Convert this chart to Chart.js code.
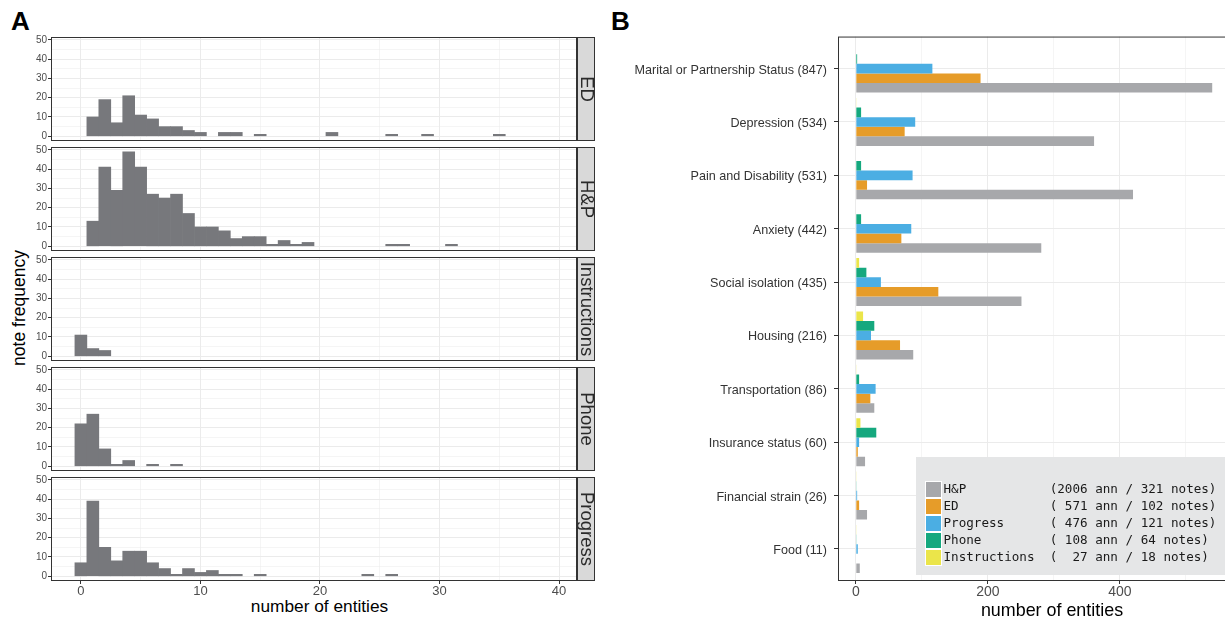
<!DOCTYPE html>
<html>
<head>
<meta charset="utf-8">
<script src="https://cdn.jsdelivr.net/npm/chart.js@4.4.1/dist/chart.umd.min.js"></script>
<style>
  body { margin: 0; width: 1225px; height: 623px; overflow: hidden; background: #fff; position: relative;
         font-family: "Liberation Sans", Arial, sans-serif; }
  canvas { position: absolute; }
  .tag { position: absolute; font-weight: bold; font-size: 26px; line-height: 1; color: #000; }
  .title { position: absolute; white-space: nowrap; line-height: 1; color: #000; }
  #ytitle { left: 20px; top: 308px; font-size: 17.5px; transform: translate(-50%, -50%) rotate(-90deg); }
  #xtitleA { left: 319.5px; top: 607px; font-size: 17.3px; transform: translate(-50%, -50%); }
</style>
</head>
<body>
<div class="tag" style="left:11px;top:8px">A</div>
<div class="tag" style="left:611px;top:8px">B</div>
<div class="title" id="ytitle">note frequency</div>
<div class="title" id="xtitleA">number of entities</div>

<script>
// Panel A: note frequency by number of entities (bin k = k entities)
const facetNames = ['ED', 'H&P', 'Instructions', 'Phone', 'Progress'];
const edBins = [0, 10, 19, 7, 21, 11, 9, 5, 5, 3, 2, 0, 2, 2, 0, 1, 0, 0, 0, 0, 0, 2, 0, 0, 0, 0, 1, 0, 0, 1, 0, 0, 0, 0, 0, 1];
const hpBins = [0, 13, 41, 29, 49, 41, 27, 25, 27, 17, 10, 10, 8, 4, 5, 5, 1, 3, 1, 2, 0, 0, 0, 0, 0, 0, 1, 1, 0, 0, 0, 1];
const instructionsBins = [11, 4, 3];
const phoneBins = [22, 27, 9, 1, 3, 0, 1, 0, 1];
const progressBins = [7, 39, 15, 8, 13, 13, 7, 4, 1, 4, 2, 3, 1, 1, 0, 1, 0, 0, 0, 0, 0, 0, 0, 0, 1, 0, 1];
const facetBins = [edBins, hpBins, instructionsBins, phoneBins, progressBins];
const histXTicks = [0, 5, 10, 15, 20, 25, 30, 35, 40];
const histYTicks = [0, 5, 10, 15, 20, 25, 30, 35, 40, 45, 50];

// Panel B: entities per category and note type
const catNames = ['Marital or Partnership Status', 'Depression', 'Pain and Disability', 'Anxiety',
  'Social isolation', 'Housing', 'Transportation', 'Insurance status', 'Financial strain', 'Food'];
const catTotals = [847, 534, 531, 442, 435, 216, 86, 60, 26, 11];
const hpCounts = [540, 361, 420, 281, 251, 87, 28, 14, 17, 6];
const edCounts = [189, 74, 17, 69, 125, 67, 22, 3, 5, 0];
const progressCounts = [116, 90, 86, 84, 38, 23, 30, 5, 2, 3];
const phoneCounts = [2, 8, 8, 8, 16, 28, 5, 31, 1, 1];
const instructionsCounts = [0, 1, 0, 0, 5, 11, 1, 7, 1, 1];
const seriesNames = ['H&P', 'ED', 'Progress', 'Phone', 'Instructions'];
const seriesCounts = [hpCounts, edCounts, progressCounts, phoneCounts, instructionsCounts];
const seriesColors = ['#a7a8ab', '#e69c29', '#4baee3', '#15a87e', '#ebe54a'];
const annTotals = [2006, 571, 476, 108, 27];
const noteTotals = [321, 102, 121, 64, 18];
const barXTicks = [0, 100, 200, 300, 400, 500, 600];

const FONT = '"Liberation Sans", Arial, sans-serif';
const histColor = '#77787c';
const gridColor = '#ebebeb';
const darkLine = '#333333';
const tickText = '#4d4d4d';

Chart.defaults.font.family = FONT;

// full border round the panel, drawn over the bars like ggplot
const framePlugin = {
  id: 'frame',
  afterDatasetsDraw(chart) {
    const { ctx, chartArea: a } = chart;
    ctx.save();
    ctx.strokeStyle = darkLine;
    ctx.lineWidth = 1;
    ctx.strokeRect(a.left + 0.5, a.top + 0.5, a.right - a.left - 1, a.bottom - a.top - 1);
    ctx.restore();
  }
};

// facet strip on the right side of each histogram
const stripPlugin = {
  id: 'strip',
  afterDraw(chart, args, opts) {
    const { ctx, chartArea: a } = chart;
    const w = 17;
    ctx.save();
    ctx.fillStyle = '#d9d9d9';
    ctx.fillRect(a.right, a.top, w, a.bottom - a.top);
    ctx.strokeStyle = darkLine;
    ctx.lineWidth = 1;
    ctx.strokeRect(a.right + 0.5, a.top + 0.5, w, a.bottom - a.top - 1);
    ctx.translate(a.right + w / 2 + 0.5, (a.top + a.bottom) / 2);
    ctx.rotate(Math.PI / 2);
    ctx.font = '18.5px ' + FONT;
    ctx.fillStyle = '#2a2a2a';
    ctx.textAlign = 'center';
    ctx.textBaseline = 'middle';
    ctx.fillText(opts.label, 0, 0);
    ctx.restore();
  }
};

const isMajor10 = c => c.tick && c.tick.value % 10 === 0;

function makeFacet(i) {
  const last = i === facetNames.length - 1;
  const top = 37 + i * 110;
  const cTop = top - 14;
  const cH = last ? 623 - cTop : 104 + 28;
  const canvas = document.createElement('canvas');
  canvas.width = 600;
  canvas.height = cH;
  canvas.style.left = '0px';
  canvas.style.top = cTop + 'px';
  document.body.appendChild(canvas);

  new Chart(canvas, {
    type: 'bar',
    data: {
      datasets: [{
        // empty bins are left out (null) so no baseline sliver is drawn
        data: facetBins[i].map((n, k) => ({ x: k, y: n > 0 ? n : null })),
        backgroundColor: histColor,
        borderWidth: 0,
        barPercentage: 1,
        categoryPercentage: 1
      }]
    },
    options: {
      responsive: false,
      animation: false,
      events: [],
      layout: { padding: { top: 14, right: 23, bottom: last ? 0 : 14, left: 0 } },
      plugins: { legend: { display: false }, tooltip: { enabled: false }, strip: { label: facetNames[i] } },
      scales: {
        x: {
          type: 'linear', min: -2.5, max: 41.5, offset: false,
          afterBuildTicks: s => { s.ticks = histXTicks.map(v => ({ value: v })); },
          afterFit: s => { s.height = last ? 42 : 0; },
          border: { display: false },
          grid: {
            offset: false, drawTicks: last, tickLength: 3, tickWidth: 1,
            color: gridColor,
            lineWidth: c => isMajor10(c) ? 1 : 0.5,
            tickColor: c => isMajor10(c) ? darkLine : 'rgba(0,0,0,0)'
          },
          ticks: {
            display: last, autoSkip: false, maxRotation: 0, padding: 0,
            color: tickText, font: { size: 13 },
            callback: v => v % 10 === 0 ? String(v) : ''
          }
        },
        y: {
          type: 'linear', min: -2.45, max: 51.45,
          afterBuildTicks: s => { s.ticks = histYTicks.map(v => ({ value: v })); },
          afterFit: s => { s.width = 51; },
          border: { display: false },
          grid: {
            drawTicks: true, tickLength: 3, tickWidth: 1,
            color: gridColor,
            lineWidth: c => isMajor10(c) ? 1 : 0.5,
            tickColor: c => isMajor10(c) ? darkLine : 'rgba(0,0,0,0)'
          },
          ticks: {
            autoSkip: false, padding: 1, color: tickText, font: { size: 10 },
            callback: v => v % 10 === 0 ? String(v) : ''
          }
        }
      }
    },
    plugins: [framePlugin, stripPlugin]
  });
}

facetNames.forEach((n, i) => makeFacet(i));

// legend box inside panel B, monospace text
const legendPlugin = {
  id: 'noteLegend',
  afterDraw(chart) {
    const { ctx } = chart;
    const ox = 610, oy = 22;
    const boxX = 916 - ox, boxY = 457 - oy;
    const keyX = 925 - ox, keyY = 481 - oy, keyW = 17, keyH = 17;
    ctx.save();
    ctx.fillStyle = '#e5e6e7';
    ctx.fillRect(boxX, boxY, chart.width - boxX, 118);
    ctx.font = '12.6px "DejaVu Sans Mono", monospace';
    ctx.textBaseline = 'middle';
    ctx.textAlign = 'left';
    seriesNames.forEach((name, i) => {
      const y = keyY + i * keyH;
      ctx.fillStyle = seriesColors[i];
      ctx.fillRect(keyX, y, keyW, keyH);
      ctx.strokeStyle = '#ffffff';
      ctx.lineWidth = 1;
      ctx.strokeRect(keyX + 0.5, y + 0.5, keyW - 1, keyH - 1);
      const label = name.padEnd(14) + '(' + String(annTotals[i]).padStart(4) + ' ann / ' + noteTotals[i] + ' notes)';
      ctx.fillStyle = '#1a1a1a';
      ctx.fillText(label, 943.5 - ox, y + keyH / 2 + 0.5);
    });
    ctx.restore();
  }
};

const nCat = catNames.length;
const catLabels = catNames.map((n, i) => n + ' (' + catTotals[i] + ')');
const catTicks = catNames.map((n, i) => i);

// the panel runs past the right edge of the picture, as in the cropped original
const barCanvas = document.createElement('canvas');
barCanvas.width = 658;
barCanvas.height = 601;
barCanvas.style.left = '610px';
barCanvas.style.top = '22px';
document.body.appendChild(barCanvas);

// datasets listed top-to-bottom inside each group (reverse of legend order)
const barDatasets = seriesNames.map((name, i) => ({
  label: name,
  data: seriesCounts[i].map((v, c) => ({ x: v, y: nCat - 1 - c })),
  backgroundColor: seriesColors[i],
  borderWidth: 0,
  barPercentage: 1,
  categoryPercentage: 0.9
})).reverse();

new Chart(barCanvas, {
  type: 'bar',
  data: { datasets: barDatasets },
  options: {
    indexAxis: 'y',
    responsive: false,
    animation: false,
    events: [],
    layout: { padding: { top: 14, right: 2, bottom: 0, left: 0 } },
    plugins: { legend: { display: false }, tooltip: { enabled: false } },
    scales: {
      y: {
        type: 'linear', min: -0.6, max: nCat - 0.4, offset: false,
        afterBuildTicks: s => { s.ticks = catTicks.map(v => ({ value: v })); },
        afterFit: s => { s.width = 228; },
        border: { display: false },
        grid: { offset: false, color: gridColor, lineWidth: 1, tickLength: 4, tickWidth: 1, tickColor: darkLine },
        ticks: {
          autoSkip: false, padding: 7, labelOffset: 1.5, color: '#333', font: { size: 12.6 },
          callback: v => catLabels[nCat - 1 - v]
        }
      },
      x: {
        type: 'linear', min: -27, max: 621.5,
        afterBuildTicks: s => { s.ticks = barXTicks.map(v => ({ value: v })); },
        afterFit: s => { s.height = 42; },
        border: { display: false },
        grid: {
          color: gridColor, tickLength: 3, tickWidth: 1,
          lineWidth: c => c.tick && c.tick.value % 200 === 0 ? 1 : 0.5,
          tickColor: c => c.tick && c.tick.value % 200 === 0 ? darkLine : 'rgba(0,0,0,0)'
        },
        ticks: {
          autoSkip: false, maxRotation: 0, padding: 0, color: tickText, font: { size: 14 },
          callback: v => v % 200 === 0 ? String(v) : ''
        },
        title: {
          display: true, text: 'number of entities', color: '#000',
          font: { size: 17.9 }, padding: { top: 0, bottom: 1.6 }
        }
      }
    }
  },
  plugins: [framePlugin, legendPlugin]
});
</script>
</body>
</html>
